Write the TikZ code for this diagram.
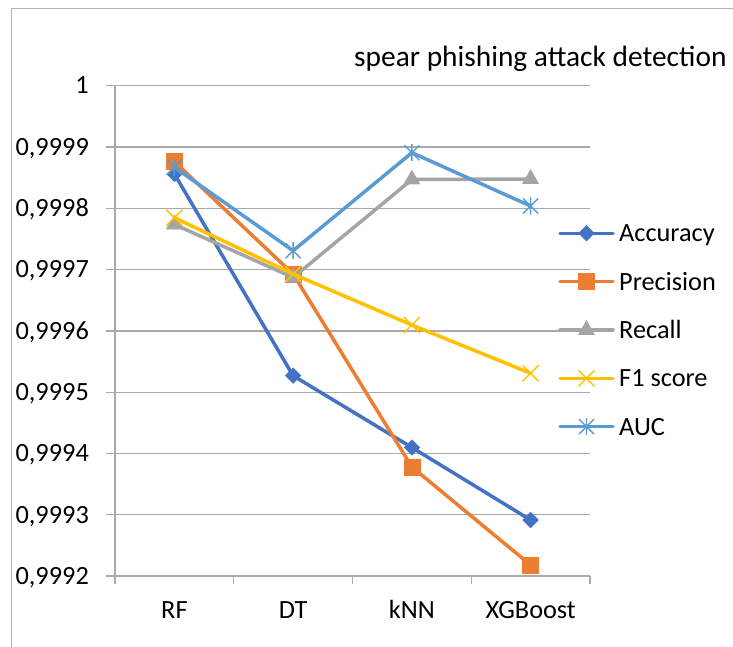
\documentclass[tikz,border=0pt]{standalone}
\usepackage{fontspec}
\setmainfont{Carlito}
\usetikzlibrary{shapes.geometric}
\definecolor{cAcc}{HTML}{4472C4}
\definecolor{cPre}{HTML}{ED7D31}
\definecolor{cRec}{HTML}{A5A5A5}
\definecolor{cF}{HTML}{FFC000}
\definecolor{cAUC}{HTML}{5B9BD5}
\definecolor{cGrid}{HTML}{A9A9A9}
\definecolor{cFrame}{HTML}{B4B4B4}
\tikzset{
  grid/.style={draw=cGrid, line width=1.3pt},
  serie/.style={line width=3.5pt, line join=round, line cap=round},
  lbl/.style={font=\fontsize{26.3pt}{30pt}\selectfont, inner sep=0pt},
  ttl/.style={font=\fontsize{29.4pt}{33pt}\selectfont, inner sep=0pt},
  mkdiam/.style={shape=diamond, fill=cAcc, draw=cAcc, line width=0.8pt, inner sep=0pt, minimum width=15.5pt, minimum height=15.5pt},
  mksq/.style={shape=rectangle, fill=cPre, draw=cPre, line width=0.8pt, inner sep=0pt, minimum size=16pt},
  mktri/.style={shape=regular polygon, regular polygon sides=3, fill=cRec, draw=cRec, line width=0.8pt, inner sep=0pt, minimum size=18pt},
  xmk/.pic={\draw[cF, line width=1.4pt] (-8,-8) -- (8,8) (-8,8) -- (8,-8);},
  starmk/.pic={\draw[cAUC, line width=1.4pt] (-7.5,-7.5) -- (7.5,7.5) (-7.5,7.5) -- (7.5,-7.5) (0,-8.5) -- (0,8.5);}
}
\begin{document}
\begin{tikzpicture}[x=1pt,y=-1pt]
\useasboundingbox (0,0) rectangle (733,647);
% frame
\coordinate (fbl) at (11.7,647);
\coordinate (ftl) at (11.7,8.3);
\coordinate (ftr) at (733,8.3);
\draw[cFrame, line width=1.3pt] (fbl) -- (ftl) -- (ftr);
% title
\node[ttl, anchor=base east] (title) at (726.7,66.7) {spear phishing attack detection};
% gridlines and y labels
\foreach \v [count=\i from 0] in {1,{0,9999},{0,9998},{0,9997},{0,9996},{0,9995},{0,9994},{0,9993},{0,9992}} {
  \coordinate (gl\i) at (106,{85.7+61.29*\i});
  \coordinate (gr\i) at (590,{85.7+61.29*\i});
  \draw[grid] (gl\i) -- (gr\i);
  \node[lbl, anchor=base east] (yl\i) at (89,{85.7+61.29*\i+8.3}) {\v};
}
% value axis
\coordinate (axt) at (115,85.7);
\coordinate (axb) at (115,576);
\draw[grid] (axt) -- (axb);
% category ticks and labels
\foreach \k in {0,...,4} {
  \coordinate (tt\k) at ({115+118.75*\k},576);
  \coordinate (tb\k) at ({115+118.75*\k},584);
  \draw[grid] (tt\k) -- (tb\k);
}
\foreach \c [count=\k from 0] in {RF,DT,kNN,XGBoost} {
  \node[lbl, anchor=base] (cl\k) at ({174.4+118.75*\k},618) {\c};
}
% data points
\foreach \s/\ya/\yb/\yc/\yd in {a/174/375.7/447.5/520, p/161.7/274/467/565, r/224.5/277.5/179.5/179, f/217.7/274/325/373.3, u/167.3/250.7/152.7/206} {
  \coordinate (\s1) at (174.4,\ya);
  \coordinate (\s2) at (293.1,\yb);
  \coordinate (\s3) at (411.9,\yc);
  \coordinate (\s4) at (530.6,\yd);
}
% Accuracy
\draw[serie, cAcc] (a1) -- (a2) -- (a3) -- (a4);
\foreach \k in {1,...,4} \node[mkdiam] (ma\k) at (a\k) {};
% Precision
\draw[serie, cPre] (p1) -- (p2) -- (p3) -- (p4);
\foreach \k in {1,...,4} \node[mksq] (mp\k) at (p\k) {};
% Recall
\draw[serie, cRec] (r1) -- (r2) -- (r3) -- (r4);
\foreach \k in {1,...,4} \node[mktri] (mr\k) at (r\k) {};
% F1
\draw[serie, cF] (f1) -- (f2) -- (f3) -- (f4);
\foreach \k in {1,...,4} \pic at (f\k) {xmk};
% AUC
\draw[serie, cAUC] (u1) -- (u2) -- (u3) -- (u4);
\foreach \k in {1,...,4} \pic at (u\k) {starmk};
% legend
\foreach \s/\col/\txt [count=\i from 0] in {a/cAcc/Accuracy, p/cPre/Precision, r/cRec/Recall, f/cF/F1 score, u/cAUC/AUC} {
  \coordinate (l\s a) at (560,{233.3+48.33*\i});
  \coordinate (l\s b) at (613,{233.3+48.33*\i});
  \coordinate (l\s m) at (586.5,{233.3+48.33*\i});
  \draw[serie, \col] (l\s a) -- (l\s b);
  \node[lbl, anchor=base west] (lt\s) at (619,{233.3+48.33*\i+8.4}) {\txt};
}
\node[mkdiam] at (lam) {};
\node[mksq] at (lpm) {};
\node[mktri] at (lrm) {};
\pic at (lfm) {xmk};
\pic at (lum) {starmk};
\end{tikzpicture}
\end{document}
